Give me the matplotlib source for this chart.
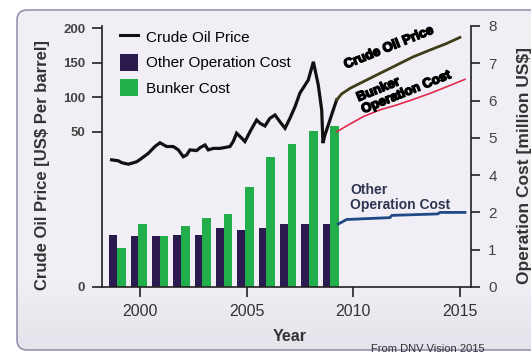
import matplotlib
matplotlib.use("Agg")
import matplotlib.pyplot as plt
import matplotlib.patheffects as pe
import numpy as np
from matplotlib.lines import Line2D
from matplotlib.patches import Patch, FancyBboxPatch
from matplotlib.colors import to_rgb

plt.rcParams['font.family'] = ['Liberation Sans', 'DejaVu Sans']

# operation cost per year, million US$
years = np.arange(1999, 2010)
other_cost = [1.40, 1.37, 1.37, 1.40, 1.40, 1.57, 1.53, 1.57, 1.68, 1.68, 1.68]
bunker_cost = [1.04, 1.68, 1.37, 1.64, 1.84, 1.95, 3.38, 4.49, 4.83, 5.19, 5.32]

# crude oil price history, US$ per barrel
oil_years = [1998.67, 1998.98, 1999.14, 1999.45, 1999.61, 1999.85, 2000.08, 2000.39,
             2000.70, 2000.94, 2001.25, 2001.56, 2001.80, 2002.03, 2002.19, 2002.34,
             2002.66, 2002.81, 2003.05, 2003.20, 2003.44, 2003.75, 2004.22, 2004.37,
             2004.53, 2004.77, 2004.92, 2005.16, 2005.47, 2005.63, 2005.86, 2006.09,
             2006.33, 2006.56, 2006.80, 2007.03, 2007.27, 2007.50, 2007.74, 2007.89,
             2008.13, 2008.36, 2008.52, 2008.58, 2008.67, 2008.83, 2009.06, 2009.22]
oil_price = [41.0, 40.7, 40.1, 39.6, 39.9, 40.4, 41.5, 43.1,
             45.3, 46.5, 45.3, 45.3, 44.2, 42.0, 42.6, 44.2,
             44.0, 44.9, 45.8, 44.2, 44.7, 44.7, 45.3, 46.9,
             49.6, 48.0, 46.9, 50.4, 67.3, 62.5, 58.6, 69.7,
             74.5, 64.8, 55.3, 69.7, 86.5, 106.2, 117.7, 124.9,
             151.3, 117.7, 81.7, 46.4, 49.0, 60.1, 81.7, 96.1]

# projections
proj_oil_years = [2009.22, 2009.45, 2009.85, 2010.47, 2011.25, 2012.03, 2012.81,
                  2013.59, 2014.38, 2015.0]
proj_oil = [96.1, 104.8, 113.0, 122.6, 134.6, 146.5, 158.5, 168.2, 177.8, 186.5]

proj_bunker_years = [2009.22, 2009.69, 2010.47, 2011.25, 2012.03, 2012.81, 2013.59,
                     2014.38, 2015.24]
proj_bunker = [5.16, 5.32, 5.57, 5.75, 5.88, 6.03, 6.19, 6.37, 6.57]

proj_other_years = [2009.30, 2009.69, 2011.72, 2011.81, 2013.97, 2014.06, 2015.24]
proj_other = [1.69, 1.81, 1.86, 1.92, 1.96, 2.00, 2.00]

oil_ticks = [0, 50, 100, 150, 200]
cost_ticks = [0, 1, 2, 4, 5, 6, 7, 8]
year_ticks = [2000, 2005, 2010, 2015]


def piecewise(xp, fp):
    xp = np.asarray(xp, float)
    fp = np.asarray(fp, float)

    def f(v):
        v = np.asarray(v, float)
        out = np.interp(v, xp, fp)
        lo = fp[0] + (v - xp[0]) * (fp[1] - fp[0]) / (xp[1] - xp[0])
        hi = fp[-1] + (v - xp[-1]) * (fp[-1] - fp[-2]) / (xp[-1] - xp[-2])
        out = np.where(v < xp[0], lo, out)
        out = np.where(v > xp[-1], hi, out)
        return out
    return f


fig = plt.figure(figsize=(5.31, 3.54), dpi=100)
fig.patch.set_facecolor('white')

# rounded panel with a faint darker band towards the bottom
frame = FancyBboxPatch((0.17, 0.04), 5.30, 3.40, boxstyle="round,pad=0,rounding_size=0.1",
                       transform=fig.dpi_scale_trans, facecolor='none',
                       edgecolor='#8482a4', linewidth=1.0, zorder=-10)
fig.patches.append(frame)
bg = fig.add_axes([0, 0, 1, 1], zorder=-20)
bg.axis('off')
t = np.clip((np.linspace(0, 1, 354) - 0.80) / 0.20, 0, 1)[:, None, None]
top_c = np.array(to_rgb('#f1eff5'))
bot_c = np.array(to_rgb('#e4e2ea'))
img = top_c * (1 - t) + bot_c * t
im = bg.imshow(img, extent=(0, 1, 0, 1), aspect='auto', interpolation='bilinear')
im.set_clip_path(frame)

ax = fig.add_axes([0.1921, 0.1893, 0.6949, 0.7373])
ax2 = ax.twinx()
ax.set_zorder(ax2.get_zorder() + 1)
ax.patch.set_visible(False)
ax2.patch.set_visible(False)

# left axis: 0-50 stretched, 50-200 compressed
oil_knots = [0, 50, 200]
oil_pos = [0, 0.594, 0.992]
ax.set_yscale('function', functions=(piecewise(oil_knots, oil_pos), piecewise(oil_pos, oil_knots)))
ax.set_ylim(0, 203)

# right axis: the 2-4 span takes one tick step
cost_knots = [0, 2, 4, 8]
cost_pos = [0, 2, 3, 7]
ax2.set_yscale('function', functions=(piecewise(cost_knots, cost_pos), piecewise(cost_pos, cost_knots)))
ax2.set_ylim(0, 8)

ax.set_xlim(1998.22, 2015.52)

dark = '#2a1a4e'
green = '#22ae4b'
ax2.bar(years - 0.25, other_cost, width=0.36, color=dark, zorder=2)
ax2.bar(years + 0.13, bunker_cost, width=0.40, color=green, zorder=2)
ax2.plot(proj_bunker_years, proj_bunker, color='#e3284c', lw=1.2)
ax2.plot(proj_other_years, proj_other, color='#1f4a86', lw=2.0)

ax.plot(oil_years, oil_price, color='#111111', lw=2.3, solid_joinstyle='miter')
ax.plot(proj_oil_years, proj_oil, color='#3d3d18', lw=2.0)

# axes styling
for a in (ax, ax2):
    a.spines['top'].set_visible(False)
ax.spines['right'].set_visible(False)
ax2.spines['left'].set_visible(False)
ax2.spines['bottom'].set_visible(False)
for s in ('left', 'bottom'):
    ax.spines[s].set_color('#222222')
    ax.spines[s].set_linewidth(1.2)
ax2.spines['right'].set_color('#222222')
ax2.spines['right'].set_linewidth(1.2)

ax.set_yticks(oil_ticks, [str(t) for t in oil_ticks])
ax.tick_params(axis='y', direction='out', length=7, width=1.2, pad=5, labelsize=9.5,
               labelcolor='#444444', color='#222222')
for lab in ax.get_yticklabels():
    lab.set_fontweight('bold')
ax.yaxis.set_minor_locator(matplotlib.ticker.NullLocator())

ax2.set_yticks(cost_ticks, [str(t) for t in cost_ticks])
ax2.tick_params(axis='y', direction='out', length=6.5, width=1.2, pad=6, labelsize=11,
                labelcolor='#444444', color='#222222')
ax2.yaxis.set_minor_locator(matplotlib.ticker.NullLocator())

ax.set_xticks(year_ticks, [str(t) for t in year_ticks])
ax.tick_params(axis='x', direction='out', length=7.5, width=1.2, pad=5, labelsize=11.5,
               labelcolor='#333333', color='#222222')

ax.set_ylabel('Crude Oil Price [US$ Per barrel]', fontsize=12, fontweight='bold',
              color='#333333', ha='center', va='center')
ax.yaxis.set_label_coords(-0.160, 0.467)
ax2.set_ylabel('Operation Cost [million US$]', fontsize=12.5, fontweight='bold',
               color='#333333', ha='center', va='center')
ax2.yaxis.set_label_coords(1.144, 0.467)
ax.set_xlabel('Year', fontsize=11.5, fontweight='bold', color='#333333', va='center')
ax.xaxis.set_label_coords(0.509, -0.188)

handles = [Line2D([0], [0], color='#111111', lw=2.2),
           Patch(facecolor=dark), Patch(facecolor=green)]
ax.legend(handles, ['Crude Oil Price', 'Other Operation Cost', 'Bunker Cost'],
          loc='upper left', bbox_to_anchor=(0.05, 0.99), frameon=False, fontsize=11,
          handlelength=1.18, handleheight=1.31, labelspacing=0.56, handletextpad=0.46,
          borderpad=0, borderaxespad=0)

blob = [pe.withStroke(linewidth=1.0, foreground='black')]
ax.text(0.778, 0.916, 'Crude Oil Price', transform=ax.transAxes, rotation=22,
        rotation_mode='anchor', ha='center', va='center', fontsize=9.5,
        fontweight='bold', color='black', path_effects=blob)
ax.text(0.818, 0.767, 'Bunker\nOperation Cost', transform=ax.transAxes, rotation=22,
        rotation_mode='anchor', ha='center', va='center', multialignment='left',
        fontsize=9.5, fontweight='bold', color='black', path_effects=blob, linespacing=1.1)
ax.text(0.672, 0.397, 'Other\nOperation Cost', transform=ax.transAxes, ha='left',
        va='top', fontsize=10, fontweight='bold', color='#2d3550', linespacing=1.05)

fig.text(428 / 531, 1 - 349 / 354, 'From DNV Vision 2015', fontsize=8,
         color='#333333', ha='center', va='center')

fig.savefig('out.png', dpi=100)
